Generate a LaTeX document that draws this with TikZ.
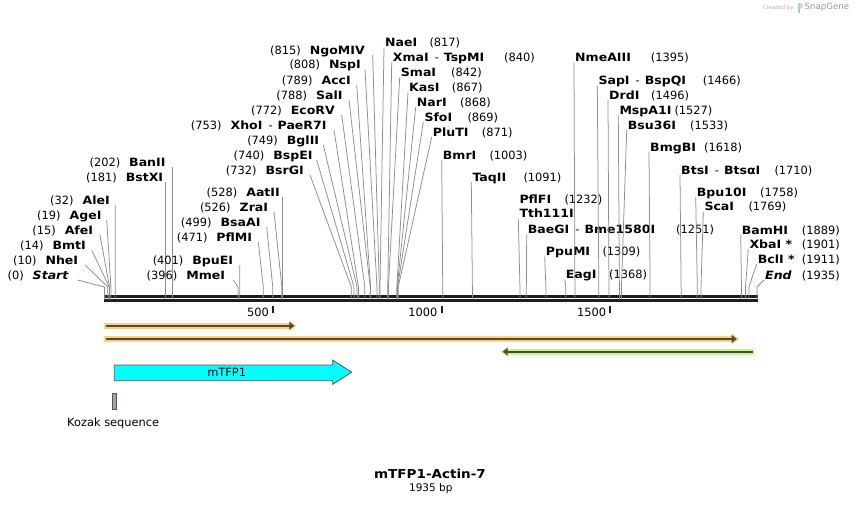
\documentclass[tikz,border=0pt]{standalone}
\usepackage{fontspec}
\setmainfont{DejaVu Sans}[BoldFeatures={FakeStretch=1.1},BoldItalicFeatures={FakeStretch=1.1}]
\usetikzlibrary{arrows.meta,positioning}
\definecolor{leadgrey}{HTML}{8C8C8C}
\definecolor{bbone}{HTML}{1E1E1E}
\definecolor{bandorange}{HTML}{FDD082}
\definecolor{bandgreen}{HTML}{C2F58E}
\definecolor{primerline}{HTML}{4F4A3E}
\definecolor{tfpcyan}{HTML}{00FFFF}
\definecolor{featline}{HTML}{555555}
\definecolor{kozakgrey}{HTML}{9EA3AB}
\definecolor{logogrey}{HTML}{B4B4B4}
\definecolor{snapgrey}{HTML}{9A9A9A}
\definecolor{logoblue}{HTML}{A9C9E6}
\newcommand{\enzsep}{\textmd{\hspace{6pt}-\hspace{5pt}}}
\newcommand{\bpx}[1]{104.5+0.3372*#1}
\begin{document}
\begin{tikzpicture}[
		x=1pt, y=-1pt,
		font=\fontsize{11.4}{13}\selectfont,
		lbl/.style={inner sep=0pt, text height=8.3pt, text depth=0pt},
		lblL/.style={lbl, anchor=east},
		lblR/.style={lbl, anchor=west},
		leader/.style={draw=leadgrey, line width=0.75pt},
		tick/.style={draw=bbone, line width=1.8pt},
		band/.style={line width=6.3pt, -{Triangle[length=7.4pt,width=10.5pt]}},
		primer/.style={draw=primerline, line width=2.3pt, -{Triangle[length=5pt,width=7.5pt]}},
	]
	\fill[white] (0,0) rectangle (862,504);
	\useasboundingbox (0,0) rectangle (862,504);

	% backbone and ruler
	\coordinate (bbL) at (104,300.5);
	\coordinate (bbR) at (757.7,300.5);
	\draw[bbone, line width=2.4pt] (bbL) -- (bbR);
	\draw[bbone, line width=3pt] ([yshift=3.7]bbL) -- ([yshift=3.7]bbR);
	\foreach \t in {500,1000,1500} {
			\coordinate (t\t) at ({\bpx{\t}},305.7);
			\draw[tick] (t\t) -- ++(0,7);
			\node[lblL] (tl\t) at ([shift={(-4,6.3)}]t\t) {\t};
		}

	% sites left of their labels
	\foreach \bp/\yc/\xe/\dx/\nm in {
			0/275/69/8.7/\textit{Start},
			10/260/78.3/6.7/NheI,
			14/245/86/5.7/BmtI,
			15/230/93.3/6.7/AfeI,
			19/215/101.7/5/AgeI,
			32/200/110/5.3/AleI,
			181/177/163.3/2.2/BstXI,
			202/162/165.7/6.9/BanII,
			396/275/225.3/8/MmeI,
			401/260/233.3/6.4/BpuEI,
			471/237/252.3/6/PflMI,
			499/222/260.7/6/BsaAI,
			526/207/268.3/5.7/ZraI,
			528/192/280/2.5/AatII,
			732/170/304/6/BsrGI,
			740/155/312.7/4/BspEI,
			749/140/319.3/4/BglII,
			753/125/326.7/7.3/XhoI\enzsep PaeR7I,
			772/110/335/6.7/EcoRV,
			788/95/342.7/6.3/SalI,
			789/80/351/5.7/AccI,
			808/64.5/361/4/NspI,
			815/50/365/7.7/NgoMIV} {
			\coordinate (s\bp) at ({\bpx{\bp}},299.3);
			\coordinate (k\bp) at ({\bpx{\bp}},287);
			\node[lblL] (L\bp) at (\xe,\yc) {(\bp)\hspace{9pt}\textbf{\nm}};
			\draw[leader] ([shift={(\dx,5)}]L\bp.east) -- (k\bp) -- (s\bp);
		}

	% sites right of their labels
	\foreach \bp/\yc/\xs/\xn/\nm in {
			817/42.5/385/429.3/NaeI,
			840/57.5/392.7/504/XmaI\enzsep TspMI,
			842/72.5/400.7/451/SmaI,
			867/87.5/409/451.7/KasI,
			868/102/416.7/460/NarI,
			869/117/424.3/467.3/SfoI,
			871/132/432.7/481.7/PluTI,
			1003/155/442.7/489.3/BmrI,
			1091/177/472.3/523.3/TaqII,
			1251/229.3/527.7/676/BaeGI\enzsep Bme1580I,
			1309/251.7/545.7/602.3/PpuMI,
			1368/274.3/565.7/609/EagI,
			1395/57.3/575/650.7/NmeAIII,
			1466/80.7/598.3/702.7/SapI\enzsep BspQI,
			1496/95/609/651/DrdI,
			1527/110/619.3/674.3/MspA1I,
			1533/125/627.7/690/Bsu36I,
			1618/147.3/650/704/BmgBI,
			1710/170/681/774.3/BtsI\enzsep BtsαI,
			1758/192.3/696.7/760/Bpu10I,
			1769/206.7/704.3/748.3/ScaI,
			1889/230/741.7/801.7/BamHI,
			1901/244/749.3/801.7/XbaI *,
			1911/259/757.7/801.7/BclI *,
			1935/275/765/801.7/\textit{End}} {
			\coordinate (s\bp) at ({\bpx{\bp}},299.3);
			\coordinate (k\bp) at ({\bpx{\bp}},287);
			\node[lblR] (R\bp) at (\xs,\yc) {\textbf{\nm}};
			\node[lblR] (N\bp) at (\xn,\yc) {(\bp)};
			\draw[leader] ([shift={(-1,5)}]R\bp.west) -- (k\bp) -- (s\bp);
		}
	\coordinate (s1232) at ({\bpx{1232}},299.3);
	\coordinate (k1232) at ({\bpx{1232}},287);
	\node[lblR] (R1232) at (519.3,199.5) {\textbf{PflFI}};
	\node[lblR] (N1232) at (564.3,199.5) {(1232)};
	\node[lblR] (R1232b) at (519.3,213.5) {\textbf{Tth111I}};
	\draw[leader] ([shift={(-1,5)}]R1232b.west) -- (k1232) -- (s1232);

	% primers
	\coordinate (f1a) at (104,325.8);
	\coordinate (f1b) at (296.7,325.8);
	\coordinate (f2a) at (104,339);
	\coordinate (f2b) at (739.3,339);
	\coordinate (r1a) at (754.3,351.7);
	\coordinate (r1b) at (500.7,351.7);
	\draw[band, draw=bandorange] (f1a) -- (f1b);
	\draw[primer] ([xshift=2]f1a) -- ([xshift=-2.4]f1b);
	\draw[band, draw=bandorange] (f2a) -- (f2b);
	\draw[primer] ([xshift=2]f2a) -- ([xshift=-2.6]f2b);
	\draw[band, draw=bandgreen] (r1a) -- (r1b);
	\draw[primer] ([xshift=-1.6]r1a) -- ([xshift=2]r1b);

	% features
	\draw[fill=tfpcyan, draw=featline, line width=0.8pt] (114.3,365) -- (332.7,365) -- (332.7,360)
		-- (351.7,372.3) -- (332.7,384.3) -- (332.7,380.7) -- (114.3,380.7) -- cycle;
	\node[anchor=base] (tfp) at (226.7,376.5) {mTFP1};
	\node[fill=kozakgrey, draw=featline, line width=0.7pt, inner sep=0pt,
		minimum width=3.6pt, minimum height=15.4pt] (kozak) at (114.3,401.3) {};
	\node[anchor=base] (kozaklbl) at (113.2,426.3) {Kozak sequence};

	% title
	\node[anchor=base, font=\fontsize{12.3}{14}\selectfont\bfseries] (title) at (430,478.3) {mTFP1-Actin-7};
	\node[anchor=base, font=\fontsize{10.5}{12}\selectfont] (size) at (430.8,491.7) {1935 bp};

	% logo
	\node[anchor=east, font=\fontsize{5.6}{6}\selectfont, text=logogrey, inner sep=0pt] (created) at (794,7.5) {Created by};
	\fill[logoblue] (797.5,2.5) rectangle (799.8,12.5);
	\fill[logoblue!70] (799.8,2.5) -- (802.6,4.3) -- (802.6,7.6) -- (799.8,9.4) -- cycle;
	\node[anchor=west, font=\fontsize{8.6}{9}\selectfont, text=snapgrey, inner sep=0pt] (snapgene) at (804.5,7.5) {SnapGene};
\end{tikzpicture}
\end{document}
